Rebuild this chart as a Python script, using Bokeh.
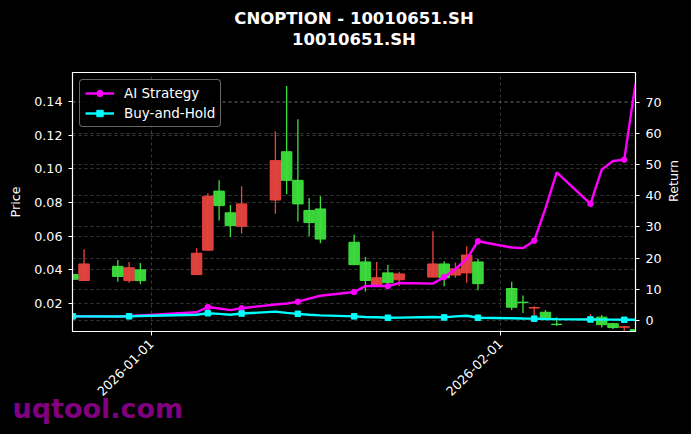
import numpy as np
import pandas as pd
from math import pi
from bokeh.plotting import figure
from bokeh.models import (Range1d, LinearAxis, FixedTicker, DatetimeTickFormatter,
                          PrintfTickFormatter, Label, Grid)
from bokeh.embed import file_html
from bokeh.resources import INLINE

dates = ["2025-12-25", "2025-12-26", "2025-12-29", "2025-12-30", "2025-12-31",
         "2026-01-05", "2026-01-06", "2026-01-07", "2026-01-08", "2026-01-09",
         "2026-01-12", "2026-01-13", "2026-01-14", "2026-01-15", "2026-01-16",
         "2026-01-19", "2026-01-20", "2026-01-21", "2026-01-22", "2026-01-23",
         "2026-01-26", "2026-01-27", "2026-01-28", "2026-01-29", "2026-01-30",
         "2026-02-02", "2026-02-03", "2026-02-04", "2026-02-05", "2026-02-06",
         "2026-02-09", "2026-02-10", "2026-02-11", "2026-02-12", "2026-02-13"]
open_ = [0.0371, 0.0336, 0.0420, 0.0335, 0.0399,
         0.0371, 0.0516, 0.0867, 0.0738, 0.0658,
         0.0814, 0.1101, 0.0931, 0.0752, 0.0761,
         0.0563, 0.0446, 0.0303, 0.0381, 0.0340,
         0.0356, 0.0434, 0.0368, 0.0381, 0.0446,
         0.0288, 0.0207, 0.0172, 0.0147, 0.0076,
         0.0106, 0.0118, 0.0079, 0.0058, 0.0044]
high = [0.0378, 0.0522, 0.0457, 0.0446, 0.0440,
        0.0527, 0.0855, 0.0931, 0.0785, 0.0896,
        0.1223, 0.1492, 0.1294, 0.0826, 0.0837,
        0.0609, 0.0475, 0.0446, 0.0428, 0.0387,
        0.0629, 0.0450, 0.0442, 0.0539, 0.0465,
        0.0329, 0.0247, 0.0182, 0.0161, 0.0118,
        0.0137, 0.0130, 0.0085, 0.0066, 0.0046]
low = [0.0340, 0.0336, 0.0329, 0.0323, 0.0313,
       0.0371, 0.0512, 0.0693, 0.0594, 0.0615,
       0.0732, 0.0849, 0.0687, 0.0598, 0.0557,
       0.0430, 0.0270, 0.0303, 0.0313, 0.0301,
       0.0356, 0.0301, 0.0352, 0.0323, 0.0278,
       0.0161, 0.0143, 0.0122, 0.0105, 0.0066,
       0.0100, 0.0056, 0.0048, 0.0036, 0.0025]
close = [0.0343, 0.0434, 0.0360, 0.0411, 0.0335,
         0.0498, 0.0837, 0.0781, 0.0662, 0.0791,
         0.1048, 0.0931, 0.0791, 0.0680, 0.0582,
         0.0430, 0.0336, 0.0352, 0.0323, 0.0375,
         0.0434, 0.0352, 0.0405, 0.0487, 0.0317,
         0.0177, 0.0204, 0.0175, 0.0108, 0.0074,
         0.0110, 0.0073, 0.0056, 0.0061, 0.0030]
ai_return = [1.3, 1.3, 1.3, 1.4, 1.6,
             2.6, 4.3, 3.8, 3.3, 3.9,
             5.1, 5.4, 6.0, 7.0, 7.9,
             9.1, 11.0, 11.1, 11.0, 12.0,
             11.8, 13.9, 16.5, 19.7, 25.4,
             23.4, 23.2, 25.6, 36.0, 47.5,
             37.4, 48.4, 51.2, 51.6, 76.0]
bh_return = [1.3, 1.3, 1.25, 1.3, 1.4,
             1.8, 2.3, 2.1, 1.8, 2.2,
             2.8, 2.4, 2.1, 1.8, 1.6,
             1.3, 1.1, 1.0, 0.85, 0.9,
             1.1, 0.95, 1.3, 1.5, 0.85,
             0.7, 0.6, 0.55, 0.45, 0.4,
             0.3, 0.25, 0.25, 0.2, 0.2]
price_ticks = [0.02, 0.04, 0.06, 0.08, 0.10, 0.12, 0.14]
return_ticks = [0, 10, 20, 30, 40, 50, 60, 70]
date_ticks = ["2026-01-01", "2026-02-01"]

FONT = "DejaVu Sans"
RED = "#e8443f"
GREEN = "#3ddf3d"

d = pd.to_datetime(dates)
o = np.array(open_)
c = np.array(close)
h = np.array(high)
l = np.array(low)
up = c >= o
day_ms = 86400000

p = figure(width=691, height=434, x_axis_type="datetime",
           x_range=Range1d(start=pd.Timestamp("2025-12-24 23:20"), end=pd.Timestamp("2026-02-13 00:00")),
           y_range=Range1d(0.00326, 0.1572),
           output_backend="svg", toolbar_location=None,
           min_border_left=72, min_border_right=56, min_border_top=72, min_border_bottom=99,
           background_fill_color="black", border_fill_color="black",
           outline_line_color="white", outline_line_width=1.2)
p.extra_y_ranges = {"ret": Range1d(-3.57, 79.6)}

# trailing empty line pads the title block below, lifting the two visible lines
p.title.text = "CNOPTION - 10010651.SH\n10010651.SH\n"
p.title.align = "center"
if "text_align" in p.title.properties():
    p.title.text_align = "center"
p.title.text_color = "white"
p.title.text_font = FONT
p.title.text_font_size = "16.5px"
p.title.text_font_style = "bold"
p.title.text_line_height = 1.1
p.title.vertical_align = "top"
p.title.standoff = 1

for g in (p.xgrid, p.ygrid):
    g.grid_line_color = "#777777"
    g.grid_line_alpha = 0.6
    g.grid_line_dash = "3 3"
    g.grid_line_width = 0.8

for mask, col in ((up, RED), (~up, GREEN)):
    p.segment(x0=d[mask], y0=l[mask], x1=d[mask], y1=h[mask], line_color=col, line_width=1.3)
    p.vbar(x=d[mask], width=0.93 * day_ms, top=np.maximum(o, c)[mask], bottom=np.minimum(o, c)[mask],
           fill_color=col, line_color=col, line_width=1, fill_alpha=0.95)

mk = np.arange(0, len(dates), 3)
ai = np.array(ai_return)
bh = np.array(bh_return)
p.line(d, ai, y_range_name="ret", line_color="#ff00ff", line_width=2.4, legend_label="AI Strategy")
p.scatter(d[mk], ai[mk], y_range_name="ret", marker="circle", size=5.5, fill_color="#ff00ff",
          line_color="#ff00ff", legend_label="AI Strategy")
p.line(d, bh, y_range_name="ret", line_color="#00ffff", line_width=2.4, legend_label="Buy-and-Hold")
p.scatter(d[mk], bh[mk], y_range_name="ret", marker="square", size=5.5, fill_color="#00ffff",
          line_color="#00ffff", legend_label="Buy-and-Hold")

rax = LinearAxis(y_range_name="ret", axis_label="Return", ticker=FixedTicker(ticks=return_ticks))
p.add_layout(rax, "right")
p.add_layout(Grid(dimension=1, ticker=rax.ticker, y_range_name="ret", grid_line_color="#777777",
                  grid_line_alpha=0.6, grid_line_dash="3 3", grid_line_width=0.8))
if "axis_label_orientation" in rax.properties():
    rax.axis_label_orientation = pi / 2

p.yaxis[0].ticker = FixedTicker(ticks=price_ticks)
p.yaxis[0].formatter = PrintfTickFormatter(format="%.2f")
p.yaxis[0].axis_label = "Price"
p.xaxis.ticker = FixedTicker(ticks=[pd.Timestamp(t).value // 10**6 for t in date_ticks])
fmt = "%Y-%m-%d"
p.xaxis.formatter = DatetimeTickFormatter(milliseconds=fmt, seconds=fmt, minsec=fmt, minutes=fmt,
                                          hourmin=fmt, hours=fmt, days=fmt, months=fmt, years=fmt)
p.xaxis.major_label_orientation = pi / 4

for ax in p.axis:
    ax.axis_line_color = "white"
    ax.major_tick_line_color = "white"
    ax.minor_tick_line_color = None
    ax.major_tick_out = 4
    ax.major_tick_in = 0
    ax.major_label_standoff = 6
    ax.major_label_text_color = "white"
    ax.major_label_text_font = FONT
    ax.major_label_text_font_size = "12.7px"
    ax.axis_label_text_color = "white"
    ax.axis_label_text_font = FONT
    ax.axis_label_text_font_size = "12.7px"
    ax.axis_label_text_font_style = "normal"
    ax.axis_label_standoff = 9
p.yaxis[0].axis_label_standoff = 8

lg = p.legend[0]
lg.location = "top_left"
lg.margin = 7
lg.padding = 5
lg.spacing = 4
lg.label_height = 16
lg.glyph_height = 16
lg.glyph_width = 29
lg.label_standoff = 10
lg.label_text_font = FONT
lg.label_text_font_size = "13.5px"
lg.label_text_color = "white"
lg.background_fill_color = "black"
lg.background_fill_alpha = 0.85
lg.border_line_color = "#cccccc"
lg.border_line_width = 1
lg.border_radius = 4

# watermark in the panel below the plot
p.add_layout(Label(x=-60, y=26, x_units="screen", y_units="screen", text="uqtool.com",
                   text_font=FONT, text_font_size="27px", text_font_style="bold",
                   text_color="#800080", text_baseline="alphabetic"), "below")

html = file_html(p, INLINE)
html = html.replace("<head>", "<head><style>html, body {background: #000000;}</style>", 1)
open("out.html", "w").write(html)
